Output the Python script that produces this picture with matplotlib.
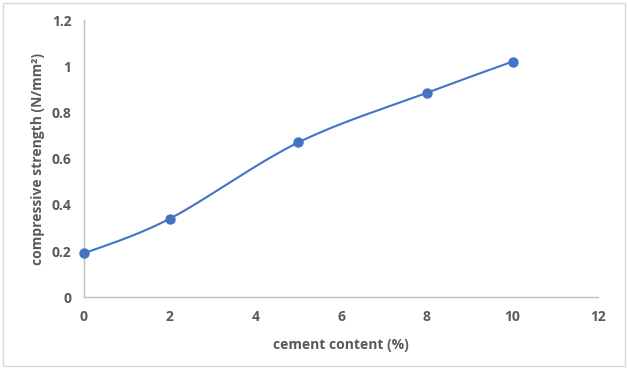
import matplotlib
matplotlib.use("Agg")
import matplotlib.pyplot as plt
import numpy as np
from matplotlib.patches import Rectangle

# data
cement = [0, 2, 5, 8, 10]
strength = [0.19, 0.34, 0.67, 0.885, 1.02]

x_ticks = [0, 2, 4, 6, 8, 10, 12]
y_ticks = [0, 0.2, 0.4, 0.6, 0.8, 1.0, 1.2]
y_tick_labels = ["0", "0.2", "0.4", "0.6", "0.8", "1", "1.2"]

line_color = "#4472C4"
text_color = "#595959"


def excel_smooth(xs, ys, n=40):
    # Excel style smoothed line: cubic bezier with control points from neighbours
    xs = np.asarray(xs, float)
    ys = np.asarray(ys, float)
    px, py = [], []
    for i in range(len(xs) - 1):
        x0, y0 = (xs[i - 1], ys[i - 1]) if i > 0 else (xs[i], ys[i])
        x3, y3 = (xs[i + 2], ys[i + 2]) if i + 2 < len(xs) else (xs[i + 1], ys[i + 1])
        p1 = np.array([xs[i], ys[i]])
        p2 = np.array([xs[i + 1], ys[i + 1]])
        c1 = p1 + (p2 - np.array([x0, y0])) / 6
        c2 = p2 - (np.array([x3, y3]) - p1) / 6
        t = np.linspace(0, 1, n)[:, None]
        pts = ((1 - t) ** 3) * p1 + 3 * ((1 - t) ** 2) * t * c1 + 3 * (1 - t) * t ** 2 * c2 + t ** 3 * p2
        px.extend(pts[:, 0])
        py.extend(pts[:, 1])
    return px, py


plt.rcParams['font.family'] = ['Open Sans', 'DejaVu Sans']

fig = plt.figure(figsize=(6.28, 3.69), dpi=100)
ax = fig.add_axes([84 / 628, 1 - 297.3 / 369, (598.3 - 84) / 628, (297.3 - 20) / 369])

sx, sy = excel_smooth(cement, strength)
ax.plot(sx, sy, color=line_color, linewidth=1.5, zorder=2)
ax.scatter(cement, strength, s=42, color=line_color, zorder=3, clip_on=False)

ax.set_xlim(0, 12)
ax.set_ylim(0, 1.2)
ax.set_xticks(x_ticks)
ax.set_yticks(y_ticks)
ax.set_yticklabels(y_tick_labels)
ax.tick_params(length=0, labelsize=10, colors=text_color, pad=9)
for lab in ax.get_xticklabels() + ax.get_yticklabels():
    lab.set_fontweight("bold")

for side in ["top", "right"]:
    ax.spines[side].set_visible(False)
for side in ["left", "bottom"]:
    ax.spines[side].set_color("#BFBFBF")
    ax.spines[side].set_linewidth(1)

ax.set_xlabel("cement content (%)", fontsize=10, color=text_color, fontweight="bold", labelpad=10)
ax.set_ylabel("compressive strength (N/mm²)", fontsize=10, color=text_color, fontweight="bold", labelpad=5)

# thin grey frame around the chart area
fig.patches.append(Rectangle((3 / 628, 3 / 369), 622 / 628, 363 / 369, transform=fig.transFigure,
                             fill=False, edgecolor="#D9D9D9", linewidth=1))

fig.savefig("out.png", dpi=100)
